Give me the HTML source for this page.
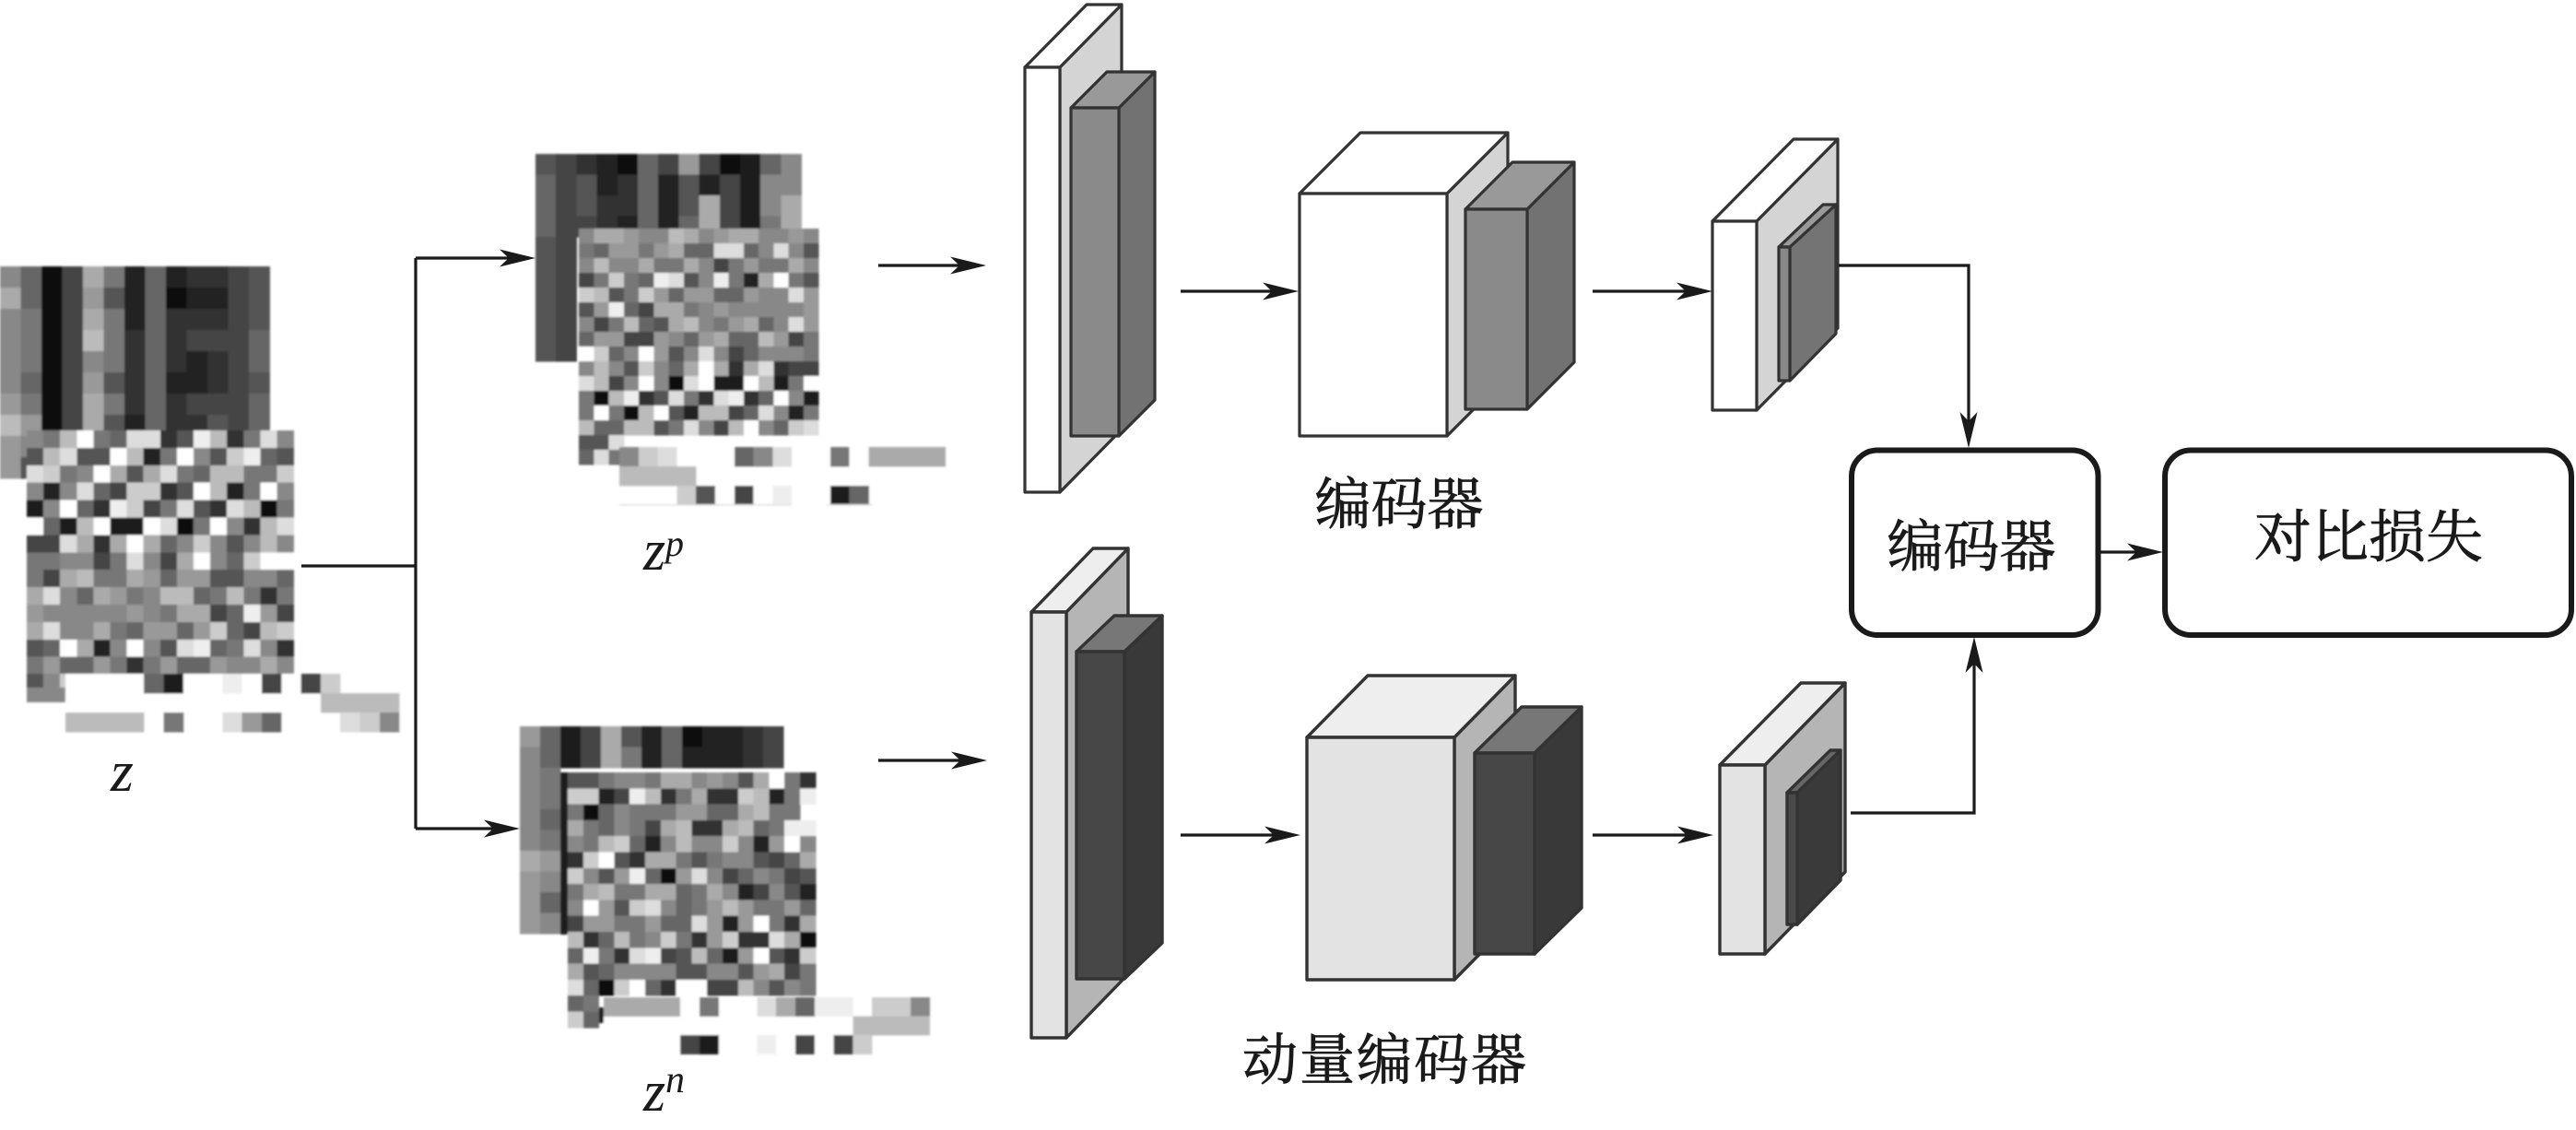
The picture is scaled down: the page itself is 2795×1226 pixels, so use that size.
<!DOCTYPE html>
<html lang="zh">
<head>
<meta charset="utf-8">
<title>对比损失</title>
<style>
html,body{margin:0;padding:0;background:#fff;width:2795px;height:1226px;overflow:hidden}
svg{display:block}
.cjk{font-family:"Liberation Serif","Noto Serif CJK SC",serif;fill:#1a1a1a;stroke:#1a1a1a;stroke-width:.8;text-anchor:middle}
.it{font-family:"Liberation Serif",serif;font-style:italic;fill:#1a1a1a}
.c polygon,.c rect{stroke-linejoin:round}
.ln{fill:none;stroke:#1a1a1a;stroke-width:3.2;marker-end:url(#ah)}
.pl{fill:none;stroke:#1a1a1a;stroke-width:3.2}
</style>
</head>
<body>
<svg id="s" xmlns="http://www.w3.org/2000/svg" width="2795" height="1226" viewBox="0 0 2795 1226">
<defs>
<marker id="ah" markerUnits="userSpaceOnUse" markerWidth="44" markerHeight="24" refX="20" refY="12" orient="auto">
<path d="M0 2.5L39 12L0 21.5L10 12z" fill="#1a1a1a"/>
</marker>
<filter id="bl" x="-2%" y="-2%" width="104%" height="104%"><feGaussianBlur stdDeviation="1"/></filter>
</defs>
<rect width="2795" height="1226" fill="#fff"/>
<g id="mos" filter="url(#bl)" shape-rendering="crispEdges"></g>

<!-- encoder stack -->
<g class="c" stroke="#333" stroke-width="3.2">
<polygon points="1150,73 1217,5 1217,466 1150,534" fill="#d4d4d4"/>
<polygon points="1112,73 1179,5 1217,5 1150,73" fill="#fff"/>
<rect x="1112" y="73" width="38" height="461" fill="#fff"/>
<polygon points="1214,117 1253,78 1253,434 1214,473" fill="#727272"/>
<polygon points="1162,117 1201,78 1253,78 1214,117" fill="#999"/>
<rect x="1162" y="117" width="52" height="356" fill="#8a8a8a"/>

<polygon points="1570,210 1636,144 1636,407 1570,473" fill="#d4d4d4"/>
<polygon points="1410,210 1476,144 1636,144 1570,210" fill="#fff"/>
<rect x="1410" y="210" width="160" height="263" fill="#fff"/>
<polygon points="1657,227 1708,176 1708,393 1657,444" fill="#727272"/>
<polygon points="1590,227 1641,176 1708,176 1657,227" fill="#999"/>
<rect x="1590" y="227" width="67" height="217" fill="#8a8a8a"/>

<polygon points="1906,240 1994,151 1994,356 1906,445" fill="#d4d4d4"/>
<polygon points="1858,240 1946,151 1994,151 1906,240" fill="#fff"/>
<rect x="1858" y="240" width="48" height="205" fill="#fff"/>
<polygon points="1942,268 1992,222 1992,362 1942,413" fill="#747474"/>
<polygon points="1930,268 1978,222 1992,222 1942,268" fill="#999"/>
<rect x="1930" y="268" width="12" height="145" fill="#888"/>
</g>

<!-- momentum encoder stack -->
<g class="c" stroke="#333" stroke-width="3.4">
<polygon points="1157,664 1224,595 1224,1057 1157,1126" fill="#b5b5b5"/>
<polygon points="1119,664 1186,595 1224,595 1157,664" fill="#eee"/>
<rect x="1119" y="664" width="38" height="462" fill="#e3e3e3"/>
<polygon points="1220,707 1261,668 1261,1023 1220,1062" fill="#393939"/>
<polygon points="1168,707 1209,668 1261,668 1220,707" fill="#777"/>
<rect x="1168" y="707" width="52" height="355" fill="#474747"/>

<polygon points="1578,800 1644,733 1644,996 1578,1063" fill="#b5b5b5"/>
<polygon points="1418,800 1484,733 1644,733 1578,800" fill="#eee"/>
<rect x="1418" y="800" width="160" height="263" fill="#e3e3e3"/>
<polygon points="1665,817 1716,767 1716,985 1665,1035" fill="#393939"/>
<polygon points="1600,817 1651,767 1716,767 1665,817" fill="#777"/>
<rect x="1600" y="817" width="65" height="218" fill="#474747"/>

<polygon points="1915,830 2002,741 2002,946 1915,1035" fill="#b5b5b5"/>
<polygon points="1866,830 1954,741 2002,741 1915,830" fill="#eee"/>
<rect x="1866" y="830" width="49" height="205" fill="#e3e3e3"/>
<polygon points="1950,860 1997,814 1997,955 1950,1003" fill="#3a3a3a"/>
<polygon points="1939,860 1986,814 1997,814 1950,860" fill="#666"/>
<rect x="1939" y="860" width="11" height="143" fill="#4a4a4a"/>
</g>

<!-- connectors -->
<path class="pl" d="M327 614H451M451 280V899"/>
<path class="ln" d="M451 280H562"/>
<path class="ln" d="M451 899H545"/>
<path class="ln" d="M953 288H1051"/>
<path class="ln" d="M953 825H1052"/>
<path class="ln" d="M1281 316H1390"/>
<path class="ln" d="M1728 316H1839"/>
<path class="ln" d="M1281 906H1392"/>
<path class="ln" d="M1728 906H1840"/>
<path class="ln" d="M1995 288H2136V467"/>
<path class="ln" d="M2008 882H2142V710"/>
<path class="ln" d="M2277 599H2328"/>

<!-- boxes -->
<rect x="2009" y="488.5" width="267.5" height="200.5" rx="28" fill="#fff" stroke="#1a1a1a" stroke-width="6"/>
<rect x="2349" y="488.5" width="441" height="200.5" rx="28" fill="#fff" stroke="#1a1a1a" stroke-width="6"/>

<!-- text -->
<text class="cjk" x="1518" y="568" font-size="61">编码器</text>
<text class="cjk" x="1503" y="1171" font-size="60" letter-spacing="2">动量编码器</text>
<text class="cjk" x="2139" y="614" font-size="61">编码器</text>
<text class="cjk" x="2570" y="604" font-size="62">对比损失</text>
<text class="it" x="120" y="858" font-size="64">z</text>
<text class="it" x="698" y="618" font-size="62">z</text>
<text class="it" x="722" y="603" font-size="40">p</text>
<text class="it" x="698" y="1205" font-size="62">z</text>
<text class="it" x="722" y="1185" font-size="42">n</text>
</svg>
<script>
(function(){
var g=document.getElementById('mos'),NS='http://www.w3.org/2000/svg';
function r(x,y,w,h,c){var e=document.createElementNS(NS,'rect');e.setAttribute('x',x);e.setAttribute('y',y);e.setAttribute('width',w);e.setAttribute('height',h);e.setAttribute('fill',c);g.appendChild(e);}
function col(d){var v=parseInt(d,16);v=v===0?26:v*17;var h=v.toString(16);if(h.length<2)h='0'+h;return '#'+h+h+h;}
function m(x,y,w,h,rows){rows.forEach(function(s,j){for(var i=0;i<s.length;i++){if(s[i]!=='.')r(x+i*w,y+j*h,w+.5,h+.5,col(s[i]));}});}

// z
m(0,289,22.5,23,["8614a72623345","a614952612245","8714a72633345","8714b73634446","8714873632346","8614953622345","9714a73634446","b914a52633546","98","95"]);
m(29,467,18.1,18.9,[
"87bf76dd35eb37d8",
"5bd55fb27f85ce65",
"dc78fa5ad76bb77c",
"828d64cc35fb27f8",
"08f63ec47d53db17",
"f60bf00fd17f83bd",
"44da3afa68c858b8",
"778847d84af86cf".padEnd(16,'f'),
"74ab77a969955886",
"ad86a978bb67b737",
"988888987aa46e94",
"ad88a76996 9c64bc".replace(' ',''),
"56fa28f85de67d83",
"79669737966988a8"
]);
r(29,731,18,15,col('5'));r(47,731,18,15,col('8'));r(65,731,6,15,col('c'));r(29,746,42,16,col('8'));
r(71,731,364,62,'#fff');
m(71,731,21.3,21,["....60ffef4f4c",".............bbbb","bbbb.7..d96ff.dc8"]);

// z^p
m(581,167,22.2,22.5,["5432164941068","6452362524088","645336 25a408a".replace(' ',''),"64432626a407a","54","54","54","54","54","54"]);
m(628,248,16.25,16,[
"8aa988ba89aa8898",
"7699 79a66dd68d85".replace(' ',''),
"8b88a77a84797 7a8".replace(' ',''),
"47c76ed58e72af75",
"cb57c9699669 88d9".replace(' ',''),
"59e64aa789888889",
"847b65ab879a68d9",
"699449869a66b947",
"fc68f958d8468887",
"8b85c86afa3ad344",
"db48f81df00fb07f",
"71be35d73de36f80",
"7f71bf52bb46d827",
"b66bb57d84bf86cd",
"55d",
"6d7"
]);
r(672,485,354,62,'#fff');
m(672,485,20.8,21,["8cdfff68dff7faaaa","bbbb","...c5f4feff06"]);
r(672,547,186,1.5,'#ddd');r(897,547,50,1.5,'#ddd');

// z^n
m(564,788,22,22.5,["9604a52612234","8604a72622234","87","87","86","87","a9","98","96","98"]);
r(608,838,8,176,col('0'));
m(616,838,16.8,17.3,[
"557887aa8985af73",
"cc24eb37a33cb27e",
"7168777 99 66ab77".replace(/ /g,''),
"a76874ab33ab67ee",
"87bc628b88c829f8",
"3cf53aa75788546a",
"c859e619d8468745",
"7ab77aa67a824852",
"8f95cd8679b97796",
"49977966d929f73a",
"b36b78c739c33da1",
"6e73de45b609f53c",
"a568888558859a47",
"d61cf63ff44b8587",
"67",
"c6"
]);
r(650,1093,5,17,col('0'));
r(655,1082,354,61,'#fff');
m(655,1082,20.8,20.5,["aaaaf7ffda6eefcc8",".............bbbb","....40ffef4f4c"]);
})();
</script>
</body>
</html>
